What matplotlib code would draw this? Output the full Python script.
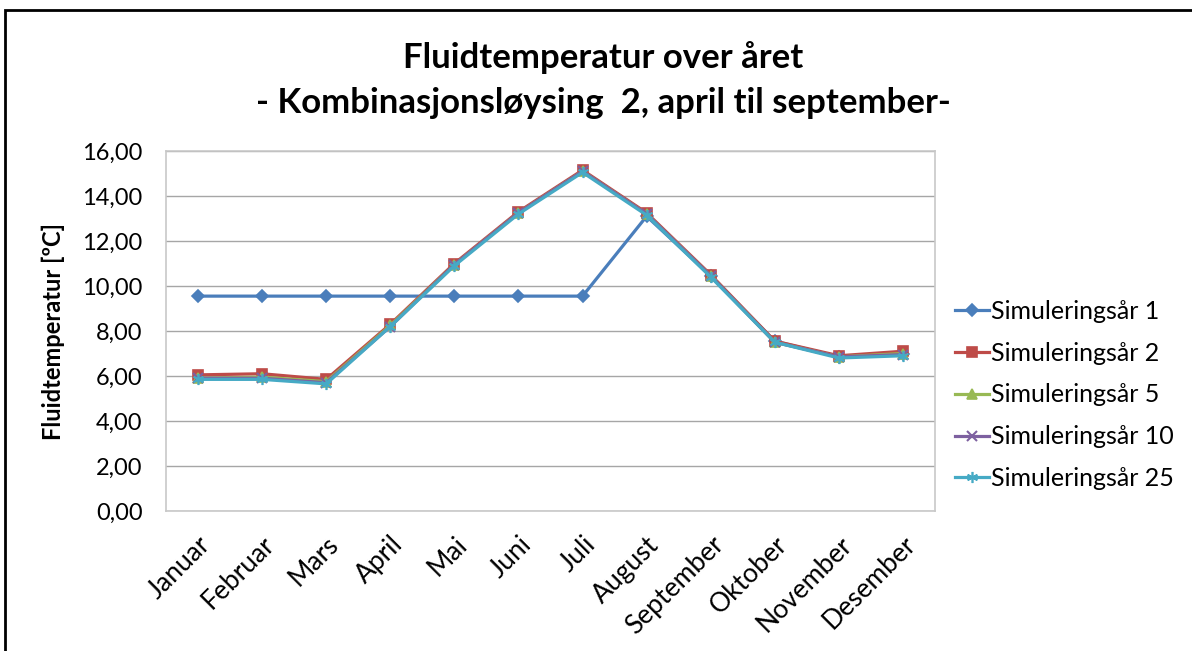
import matplotlib
matplotlib.use("Agg")
import matplotlib.pyplot as plt
from matplotlib.patches import Rectangle

months = ["Januar", "Februar", "Mars", "April", "Mai", "Juni", "Juli",
          "August", "September", "Oktober", "November", "Desember"]

sim_1 = [9.55, 9.55, 9.55, 9.55, 9.55, 9.55, 9.55, 13.1, 10.45, 7.55, 6.85, 7.0]
sim_2 = [6.05, 6.1, 5.85, 8.3, 11.0, 13.3, 15.15, 13.25, 10.5, 7.55, 6.9, 7.1]
sim_5 = [5.9, 5.95, 5.75, 8.25, 10.95, 13.25, 15.1, 13.2, 10.45, 7.5, 6.85, 7.0]
sim_10 = [5.9, 5.9, 5.7, 8.2, 10.95, 13.25, 15.1, 13.2, 10.45, 7.5, 6.85, 6.95]
sim_25 = [5.85, 5.85, 5.65, 8.2, 10.9, 13.2, 15.05, 13.15, 10.4, 7.5, 6.8, 6.9]

series = [
    ("Simuleringsår 1", sim_1, "#4A7EBB", "D", 6),
    ("Simuleringsår 2", sim_2, "#BE4B48", "s", 7),
    ("Simuleringsår 5", sim_5, "#98B954", "^", 7),
    ("Simuleringsår 10", sim_10, "#7D60A0", "x", 7),
    ("Simuleringsår 25", sim_25, "#46AAC5", (6, 2, 0), 8),
]

plt.rcParams['font.family'] = ['Lato', 'DejaVu Sans']

W, H = 1192, 651
fig = plt.figure(figsize=(W / 100, H / 100), dpi=100)
ax = fig.add_axes([166 / W, 1 - 511 / H, (935 - 166) / W, (511 - 151) / H])

x = list(range(len(months)))
for label, vals, color, marker, ms in series:
    ax.plot(x, vals, color=color, lw=2.3, marker=marker, markersize=ms,
            markeredgewidth=1.5 if marker == "x" else 1.2,
            label=label, solid_joinstyle="round")

yvals = [0, 2, 4, 6, 8, 10, 12, 14, 16]
ax.set_xlim(-0.5, len(months) - 0.5)
ax.set_ylim(0, 16)
ax.set_yticks(yvals)
ax.set_yticklabels([f"{v:.2f}".replace(".", ",") for v in yvals], fontsize=17)
ax.set_xticks(x)
ax.set_xticklabels(months, rotation=45, ha="right", rotation_mode="anchor", fontsize=19)
ax.tick_params(axis="y", length=0, pad=17)
ax.tick_params(axis="x", length=0, pad=15)
ax.yaxis.grid(True, color="#A6A6A6", lw=1)
ax.set_axisbelow(True)
for s in ax.spines.values():
    s.set_color("#C8C8C8")
    s.set_linewidth(1.2)

ax.set_ylabel("Fluidtemperatur [ºC]", fontsize=17, fontweight="bold", labelpad=12)

fig.text(603 / W, 1 - 58 / H, "Fluidtemperatur over året", ha="center", va="center",
         fontsize=25, fontweight="bold")
fig.text(603 / W, 1 - 103 / H, "- Kombinasjonsløysing  2, april til september-",
         ha="center", va="center", fontsize=25, fontweight="bold")

leg = fig.legend(loc="center left", bbox_to_anchor=(955 / W, 1 - 395 / H), frameon=False,
                 fontsize=18, handlelength=1.35, handletextpad=0.1, labelspacing=0.75,
                 borderpad=0, borderaxespad=0)

fig.patches.append(Rectangle((5 / W, -0.1), 1.2, 1 - 10 / H + 0.1, transform=fig.transFigure,
                             fill=False, edgecolor="black", lw=2))

fig.savefig("out.png", dpi=100)
